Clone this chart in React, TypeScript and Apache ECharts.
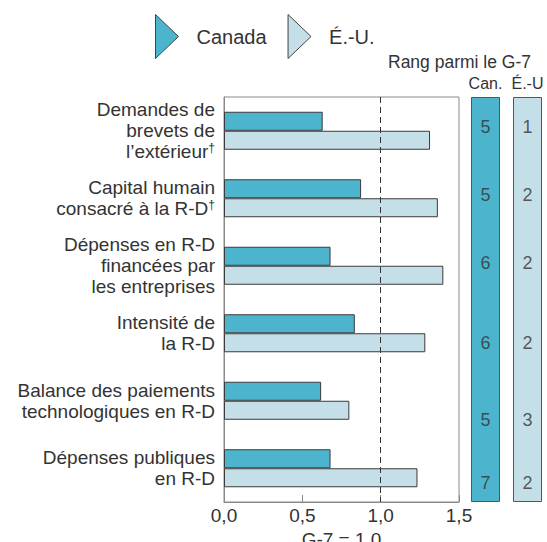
import React, { useEffect, useRef } from "react";
import * as echarts from "echarts";

const categories = [
  "Demandes de\nbrevets de\nl’extérieur†",
  "Capital humain\nconsacré à la R-D†",
  "Dépenses en R-D\nfinancées par\nles entreprises",
  "Intensité de\nla R-D",
  "Balance des paiements\ntechnologiques en R-D",
  "Dépenses publiques\nen R-D",
];
const canadaValues = [0.63, 0.875, 0.68, 0.835, 0.62, 0.68];
const usValues = [1.315, 1.365, 1.4, 1.285, 0.8, 1.235];
const canadaRanks = [5, 5, 6, 6, 5, 7];
const usRanks = [1, 2, 2, 2, 3, 2];
// vertical position of each rank label, in row units from the top of the columns
const rankPos = [0.44, 1.45, 2.46, 3.64, 4.79, 5.72];

const CAN = "#4db4cd";
const US = "#c5dfe8";
const TXT = "#333333";
const FONT = "'Liberation Sans', Arial, sans-serif";
const TRI = "path://M0,0L23,22L0,44Z";

export default function App() {
  const ref = useRef<HTMLDivElement>(null);
  useEffect(() => {
    if (!ref.current) return;
    const chart = echarts.init(ref.current, null, { renderer: "svg" });

    const rankGrid = (left: number) => ({
      left,
      top: 97,
      width: 29,
      height: 405,
      containLabel: false,
      outerBoundsMode: "none",
    });

    const rankLabels = (ranks: number[]) => ({
      show: true,
      position: "inside",
      fontSize: 18,
      color: TXT,
      fontFamily: FONT,
      formatter: (p: any) => String(ranks[p.dataIndex]),
    });

    const option: any = {
      animation: false,
      textStyle: { fontFamily: FONT, color: TXT },
      legend: {
        left: 150,
        top: 9,
        itemWidth: 23,
        itemHeight: 44,
        itemGap: 21,
        selectedMode: false,
        data: [
          { name: "Canada", icon: TRI },
          { name: "É.-U.", icon: TRI },
        ],
        itemStyle: { borderColor: "#444", borderWidth: 1 },
        textStyle: { fontSize: 20, color: TXT, fontFamily: FONT, padding: [0, 0, 0, 13] },
      },
      grid: [
        {
          left: 224,
          top: 97,
          width: 235,
          height: 405,
          show: true,
          borderColor: "#8a8a8a",
          borderWidth: 1,
          containLabel: false,
          outerBoundsMode: "none",
        },
        rankGrid(471),
        rankGrid(513),
      ],
      xAxis: [
        {
          gridIndex: 0,
          type: "value",
          min: 0,
          max: 1.5,
          interval: 0.5,
          name: "G-7 = 1.0",
          nameLocation: "middle",
          nameGap: 27,
          nameTextStyle: { fontSize: 19, color: TXT, fontFamily: FONT },
          axisLine: { show: true, lineStyle: { color: "#8a8a8a" } },
          axisTick: { show: true, inside: true, length: 7, lineStyle: { color: "#8a8a8a" } },
          splitLine: { show: false },
          axisLabel: {
            fontSize: 19,
            color: TXT,
            margin: 4,
            formatter: (v: number) => v.toFixed(1).replace(".", ","),
          },
        },
        {
          gridIndex: 1,
          type: "category",
          data: ["Can."],
          position: "top",
          axisLine: { show: false },
          axisTick: { show: false },
          axisLabel: { fontSize: 16, color: TXT, margin: 6 },
        },
        {
          gridIndex: 2,
          type: "category",
          data: ["É.-U"],
          position: "top",
          axisLine: { show: false },
          axisTick: { show: false },
          axisLabel: { fontSize: 16, color: TXT, margin: 6 },
        },
      ],
      yAxis: [
        {
          gridIndex: 0,
          type: "category",
          data: categories,
          inverse: true,
          axisLine: { show: true, lineStyle: { color: "#8a8a8a" } },
          axisTick: { show: false },
          axisLabel: {
            fontSize: 19,
            color: TXT,
            margin: 9,
            lineHeight: 21,
            align: "right",
            formatter: (v: string) => v.replace("†", "{sup|†}"),
            rich: { sup: { fontSize: 12, color: TXT, padding: [0, 0, 7, 0], fontFamily: FONT } },
          },
        },
        { gridIndex: 1, type: "value", min: 0, max: 6, inverse: true, show: false },
        { gridIndex: 2, type: "value", min: 0, max: 6, inverse: true, show: false },
      ],
      series: [
        {
          name: "Canada",
          type: "bar",
          xAxisIndex: 0,
          yAxisIndex: 0,
          data: canadaValues,
          barWidth: 19,
          barGap: "0%",
          itemStyle: { color: CAN, borderColor: "#3a3a3a", borderWidth: 1 },
          markLine: {
            silent: true,
            symbol: "none",
            label: { show: false },
            lineStyle: { color: "#333", type: [6, 4], width: 1 },
            data: [{ xAxis: 1.0 }],
          },
        },
        {
          name: "É.-U.",
          type: "bar",
          xAxisIndex: 0,
          yAxisIndex: 0,
          data: usValues,
          barWidth: 19,
          barGap: "0%",
          itemStyle: { color: US, borderColor: "#3a3a3a", borderWidth: 1 },
        },
        {
          type: "bar",
          xAxisIndex: 1,
          yAxisIndex: 1,
          data: [6],
          barWidth: "100%",
          itemStyle: { color: CAN, borderColor: "#555", borderWidth: 1 },
          silent: true,
        },
        {
          type: "bar",
          xAxisIndex: 2,
          yAxisIndex: 2,
          data: [6],
          barWidth: "100%",
          itemStyle: { color: US, borderColor: "#555", borderWidth: 1 },
          silent: true,
        },
        {
          type: "scatter",
          xAxisIndex: 1,
          yAxisIndex: 1,
          symbolSize: 1,
          itemStyle: { color: "transparent" },
          data: rankPos.map((p) => [0, p]),
          label: rankLabels(canadaRanks),
          z: 5,
        },
        {
          type: "scatter",
          xAxisIndex: 2,
          yAxisIndex: 2,
          symbolSize: 1,
          itemStyle: { color: "transparent" },
          data: rankPos.map((p) => [0, p]),
          label: rankLabels(usRanks),
          z: 5,
        },
      ],
      graphic: [
        {
          type: "text",
          left: 388,
          top: 53,
          style: { text: "Rang parmi le G-7", fontSize: 17.5, fill: TXT, fontFamily: FONT },
        },
      ],
    };
    chart.setOption(option);
    return () => chart.dispose();
  }, []);
  return <div ref={ref} style={{ width: 547, height: 542, position: "absolute", left: 0, top: 0 }} />;
}
